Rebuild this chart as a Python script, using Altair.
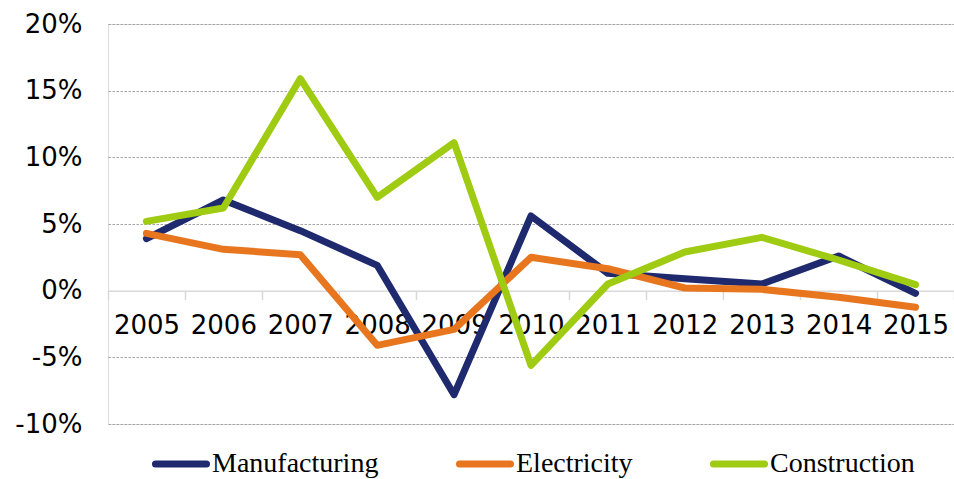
import altair as alt
import pandas as pd

years = ["2005", "2006", "2007", "2008", "2009", "2010", "2011", "2012", "2013", "2014", "2015"]
series_names = ["Manufacturing", "Electricity", "Construction"]
manufacturing = [3.9, 6.8, 4.5, 1.9, -7.8, 5.6, 1.3, 0.9, 0.5, 2.6, -0.2]
electricity = [4.3, 3.1, 2.7, -4.1, -2.9, 2.5, 1.65, 0.2, 0.1, -0.5, -1.25]
construction = [5.2, 6.2, 15.9, 7.0, 11.1, -5.6, 0.5, 2.9, 4.0, 2.3, 0.45]
y_ticks = [-0.10, -0.05, 0.0, 0.05, 0.10, 0.15, 0.20]
colors = ["#1f2a6e", "#e8761f", "#9fcb12"]

rows = []
for name, vals in zip(series_names, [manufacturing, electricity, construction]):
    for yr, v in zip(years, vals):
        rows.append({"year": yr, "series": name, "value": v / 100.0})
df = pd.DataFrame(rows)

W, H = 846, 400
TOP, LEFT = 24, 108

# pill-shaped legend symbol (unit box -1..1), stroked to give rounded ends
pill = "M-1,-0.04 L1,-0.04 A0.04,0.04 0 0 1 1,0.04 L-1,0.04 A0.04,0.04 0 0 1 -1,-0.04 Z"

chart = (
    alt.Chart(df)
    .mark_line(strokeWidth=7, strokeCap="round", strokeJoin="round")
    .encode(
        x=alt.X(
            "year:O",
            sort=years,
            scale=alt.Scale(type="band", paddingInner=0, paddingOuter=0),
            axis=alt.Axis(
                title=None,
                labelAngle=0,
                labelFont="DejaVu Sans",
                labelFontSize=26,
                labelColor="#000000",
                labelPadding=13,
                tickBand="extent",
                tickSize=9,
                tickColor="#d9d9d9",
                tickWidth=1.5,
                domain=True,
                domainColor="#d9d9d9",
                domainWidth=1.5,
                offset=-(H / 3.0),
                grid=False,
            ),
        ),
        y=alt.Y(
            "value:Q",
            scale=alt.Scale(domain=[-0.10, 0.20], nice=False, zero=False),
            axis=alt.Axis(
                title=None,
                values=y_ticks,
                labelExpr="(datum.value < 0 ? '-' : '') + format(abs(datum.value), '.0%')",
                labelFont="DejaVu Sans",
                labelFontSize=26,
                labelColor="#000000",
                labelPadding=26,
                ticks=False,
                domain=False,
                grid=True,
                gridColor="#a6a6a6",
                gridDash=[2.5, 1.5],
                gridWidth=1,
                gridOpacity={"condition": {"test": "datum.value === 0", "value": 0}, "value": 1},
            ),
        ),
        color=alt.Color(
            "series:N",
            sort=series_names,
            scale=alt.Scale(domain=series_names, range=colors),
            legend=alt.Legend(
                title=None,
                orient="none",
                direction="horizontal",
                legendX=45,
                legendY=412,
                symbolType=pill,
                symbolSize=2601,
                symbolStrokeWidth=5,
                labelFont="Liberation Serif",
                labelFontSize=28,
                labelColor="#000000",
                labelOffset=3,
                columnPadding=69,
                padding=0,
                labelLimit=400,
            ),
        ),
    )
    .properties(
        width=W,
        height=H,
        autosize=alt.AutoSizeParams(type="none"),
        padding={"left": LEFT, "top": TOP, "right": 0, "bottom": 55},
    )
    .configure_view(stroke="transparent", strokeWidth=0, strokeOpacity=0)
    .configure_axisY(domain=False, domainOpacity=0)
    .configure_axisBand(grid=False)
    .configure(background="#ffffff")
)

chart.save("out.html", embed_options={"renderer": "svg", "actions": False})
